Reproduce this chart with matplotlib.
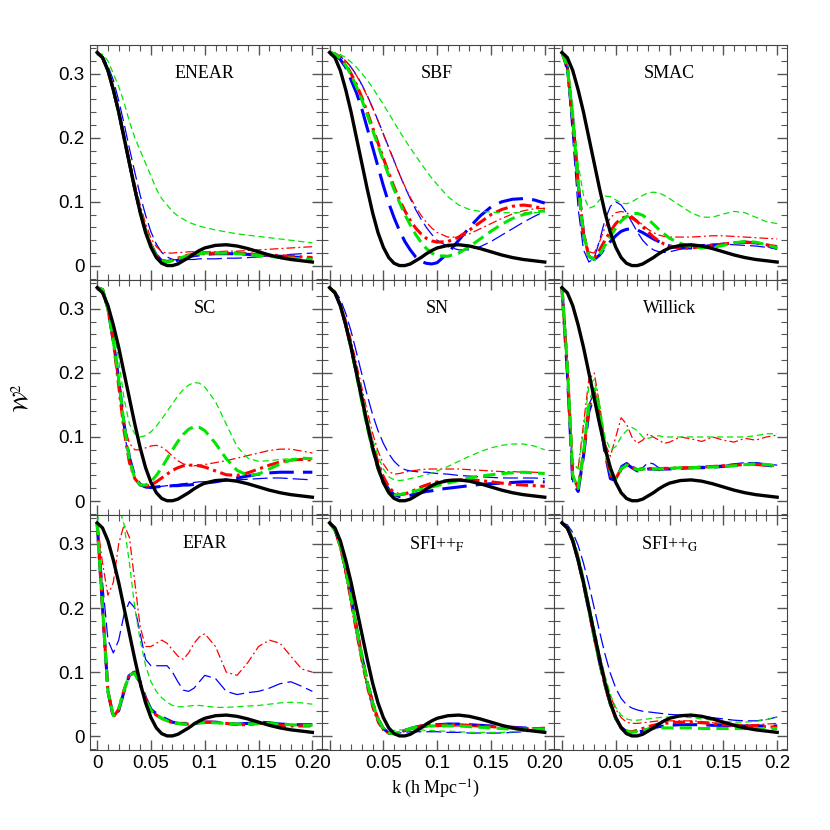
import matplotlib
matplotlib.use("Agg")
import numpy as np
import matplotlib.pyplot as plt
from matplotlib.ticker import MultipleLocator, FixedLocator, FixedFormatter

plt.rcParams["mathtext.fontset"] = "stix"

# k grid: 0.005 steps to 0.1, then 0.01 steps to 0.2
k = [0.0, 0.005, 0.01, 0.015, 0.02, 0.025, 0.03, 0.035, 0.04, 0.045, 0.05,
     0.055, 0.06, 0.065, 0.07, 0.075, 0.08, 0.085, 0.09, 0.095, 0.1,
     0.11, 0.12, 0.13, 0.14, 0.15, 0.16, 0.17, 0.18, 0.19, 0.2]

# ideal top-hat window (same in every panel)
black = [0.333, 0.325, 0.305, 0.275, 0.24, 0.2, 0.16, 0.12, 0.083, 0.052, 0.029,
         0.013, 0.004, 0.0005, 0.0005, 0.003, 0.008, 0.013, 0.019, 0.024, 0.028,
         0.032, 0.033, 0.031, 0.027, 0.022, 0.017, 0.013, 0.010, 0.008, 0.006]

panel_names = ["ENEAR", "SBF", "SMAC", "SC", "SN", "Willick",
               "EFAR", r"SFI++$_{\rm F}$", r"SFI++$_{\rm G}$"]

# each panel: blue thin, blue thick, red thin, red thick, green thin, green thick
enear_b1 = [0.333,0.327,0.312,0.29,0.258,0.222,0.183,0.146,0.11,0.079,0.053,0.034,0.021,0.014,0.01,0.009,0.009,0.01,0.01,0.011,0.011,0.011,0.012,0.012,0.013,0.014,0.015,0.016,0.018,0.019,0.02]
enear_b2 = [0.333,0.325,0.305,0.275,0.24,0.2,0.16,0.12,0.085,0.055,0.033,0.017,0.008,0.005,0.006,0.009,0.012,0.014,0.016,0.017,0.018,0.019,0.019,0.019,0.018,0.017,0.016,0.015,0.014,0.013,0.012]
enear_r1 = [0.333,0.326,0.308,0.28,0.245,0.207,0.168,0.13,0.095,0.066,0.043,0.03,0.022,0.02,0.02,0.021,0.021,0.022,0.022,0.022,0.022,0.022,0.023,0.023,0.024,0.025,0.026,0.027,0.028,0.029,0.03]
enear_r2 = [0.333,0.325,0.305,0.275,0.24,0.2,0.16,0.12,0.085,0.055,0.033,0.017,0.009,0.007,0.009,0.012,0.015,0.017,0.018,0.019,0.019,0.02,0.02,0.02,0.019,0.018,0.017,0.016,0.015,0.014,0.013]
enear_g1 = [0.333,0.33,0.32,0.30,0.28,0.255,0.225,0.20,0.18,0.16,0.14,0.12,0.105,0.095,0.085,0.078,0.073,0.068,0.065,0.062,0.06,0.056,0.053,0.05,0.048,0.046,0.044,0.042,0.040,0.038,0.036]
enear_g2 = [0.333,0.325,0.305,0.275,0.24,0.2,0.16,0.12,0.085,0.055,0.032,0.016,0.008,0.006,0.008,0.011,0.014,0.016,0.018,0.019,0.02,0.02,0.02,0.019,0.018,0.016,0.015,0.013,0.012,0.011,0.01]

sbf_b1 = [0.333,0.331,0.327,0.32,0.31,0.298,0.283,0.266,0.247,0.227,0.206,0.185,0.164,0.143,0.123,0.105,0.088,0.073,0.06,0.049,0.04,0.03,0.025,0.025,0.03,0.038,0.048,0.058,0.068,0.077,0.085]
sbf_b2 = [0.333,0.33,0.322,0.31,0.29,0.27,0.245,0.215,0.185,0.155,0.125,0.098,0.075,0.055,0.038,0.025,0.014,0.007,0.004,0.003,0.005,0.02,0.04,0.06,0.078,0.092,0.1,0.104,0.105,0.103,0.098]
sbf_r1 = [0.333,0.332,0.328,0.32,0.31,0.297,0.282,0.265,0.246,0.226,0.205,0.184,0.163,0.143,0.124,0.107,0.092,0.079,0.068,0.059,0.052,0.045,0.045,0.05,0.058,0.066,0.074,0.081,0.086,0.089,0.09]
sbf_r2 = [0.333,0.331,0.325,0.315,0.30,0.283,0.263,0.24,0.216,0.192,0.168,0.145,0.123,0.103,0.086,0.071,0.059,0.05,0.043,0.039,0.037,0.038,0.045,0.056,0.068,0.08,0.088,0.093,0.095,0.093,0.088]
sbf_g1 = [0.333,0.332,0.33,0.325,0.318,0.31,0.30,0.29,0.278,0.265,0.252,0.238,0.224,0.21,0.197,0.184,0.172,0.16,0.148,0.137,0.127,0.108,0.095,0.088,0.085,0.084,0.083,0.083,0.083,0.083,0.084]
sbf_g2 = [0.333,0.331,0.324,0.313,0.298,0.28,0.259,0.236,0.212,0.188,0.164,0.141,0.119,0.099,0.08,0.064,0.049,0.037,0.027,0.02,0.016,0.015,0.02,0.03,0.042,0.054,0.065,0.074,0.08,0.084,0.086]

smac_b1 = [0.333,0.3,0.2,0.09,0.025,0.006,0.012,0.04,0.072,0.093,0.1,0.095,0.083,0.068,0.053,0.04,0.031,0.025,0.022,0.021,0.022,0.026,0.03,0.033,0.034,0.034,0.033,0.032,0.031,0.029,0.027]
smac_b2 = [0.333,0.31,0.23,0.13,0.05,0.015,0.01,0.017,0.028,0.038,0.047,0.054,0.057,0.058,0.056,0.052,0.047,0.042,0.038,0.034,0.031,0.028,0.028,0.03,0.032,0.034,0.036,0.037,0.036,0.032,0.027]
smac_r1 = [0.333,0.31,0.23,0.13,0.055,0.022,0.02,0.038,0.06,0.075,0.083,0.085,0.083,0.078,0.071,0.064,0.057,0.052,0.048,0.046,0.045,0.045,0.045,0.046,0.047,0.047,0.046,0.045,0.044,0.043,0.042]
smac_r2 = [0.333,0.31,0.23,0.13,0.05,0.015,0.012,0.025,0.04,0.054,0.066,0.074,0.077,0.075,0.069,0.061,0.053,0.045,0.039,0.034,0.031,0.028,0.028,0.03,0.032,0.034,0.036,0.037,0.036,0.033,0.03]
smac_g1 = [0.333,0.32,0.25,0.16,0.11,0.09,0.093,0.103,0.109,0.108,0.103,0.098,0.097,0.1,0.105,0.11,0.114,0.115,0.114,0.11,0.105,0.094,0.083,0.076,0.076,0.081,0.085,0.083,0.076,0.069,0.066]
smac_g2 = [0.333,0.31,0.23,0.13,0.05,0.015,0.01,0.018,0.032,0.046,0.059,0.07,0.077,0.081,0.082,0.079,0.073,0.065,0.057,0.05,0.043,0.035,0.03,0.028,0.029,0.032,0.036,0.038,0.037,0.033,0.028]

sc_b1 = [0.333,0.33,0.30,0.25,0.18,0.11,0.06,0.035,0.024,0.021,0.021,0.022,0.023,0.024,0.025,0.026,0.027,0.028,0.029,0.03,0.03,0.031,0.032,0.033,0.034,0.035,0.036,0.036,0.035,0.034,0.033]
sc_b2 = [0.333,0.33,0.30,0.25,0.19,0.12,0.068,0.038,0.026,0.022,0.021,0.022,0.023,0.023,0.024,0.024,0.025,0.025,0.026,0.027,0.028,0.03,0.033,0.036,0.039,0.042,0.044,0.045,0.045,0.045,0.045]
sc_r1 = [0.333,0.33,0.30,0.25,0.18,0.12,0.09,0.08,0.08,0.083,0.086,0.087,0.084,0.078,0.07,0.063,0.058,0.056,0.055,0.056,0.057,0.06,0.063,0.067,0.071,0.075,0.079,0.081,0.081,0.078,0.075]
sc_r2 = [0.333,0.33,0.30,0.25,0.18,0.11,0.06,0.035,0.025,0.023,0.025,0.03,0.036,0.042,0.048,0.052,0.055,0.056,0.056,0.055,0.053,0.047,0.041,0.04,0.044,0.05,0.056,0.061,0.064,0.065,0.064]
sc_g1 = [0.333,0.33,0.31,0.27,0.22,0.16,0.12,0.105,0.1,0.102,0.108,0.117,0.128,0.14,0.152,0.164,0.174,0.181,0.185,0.184,0.178,0.155,0.12,0.085,0.067,0.062,0.063,0.065,0.066,0.066,0.065]
sc_g2 = [0.333,0.33,0.30,0.25,0.19,0.12,0.065,0.035,0.025,0.025,0.03,0.04,0.052,0.066,0.08,0.093,0.104,0.112,0.116,0.115,0.11,0.09,0.066,0.048,0.04,0.042,0.05,0.058,0.064,0.067,0.066]

sn_b1 = [0.333,0.328,0.315,0.293,0.265,0.232,0.198,0.165,0.135,0.11,0.09,0.074,0.062,0.054,0.049,0.047,0.046,0.045,0.045,0.044,0.043,0.042,0.04,0.039,0.038,0.037,0.036,0.036,0.036,0.036,0.035]
sn_b2 = [0.333,0.325,0.305,0.275,0.24,0.2,0.16,0.12,0.085,0.055,0.033,0.018,0.01,0.007,0.007,0.009,0.011,0.013,0.015,0.016,0.018,0.02,0.022,0.024,0.026,0.027,0.028,0.029,0.03,0.03,0.03]
sn_r1 = [0.333,0.327,0.31,0.285,0.252,0.215,0.177,0.14,0.106,0.078,0.058,0.046,0.042,0.043,0.045,0.047,0.048,0.049,0.05,0.05,0.05,0.05,0.05,0.049,0.048,0.047,0.046,0.046,0.045,0.045,0.044]
sn_r2 = [0.333,0.325,0.305,0.275,0.24,0.2,0.16,0.122,0.088,0.06,0.038,0.022,0.013,0.01,0.011,0.014,0.018,0.022,0.025,0.028,0.03,0.032,0.033,0.033,0.032,0.03,0.028,0.026,0.025,0.024,0.023]
sn_g1 = [0.333,0.326,0.308,0.28,0.245,0.207,0.168,0.13,0.096,0.07,0.05,0.038,0.033,0.032,0.033,0.035,0.037,0.039,0.041,0.044,0.047,0.054,0.062,0.07,0.077,0.083,0.087,0.089,0.089,0.086,0.08]
sn_g2 = [0.333,0.325,0.305,0.275,0.238,0.197,0.155,0.115,0.08,0.05,0.028,0.015,0.01,0.01,0.012,0.014,0.016,0.018,0.02,0.022,0.024,0.028,0.032,0.036,0.039,0.041,0.043,0.044,0.045,0.044,0.043]

wil_b1 = [0.333,0.2,0.03,0.02,0.08,0.15,0.17,0.14,0.08,0.04,0.035,0.055,0.06,0.055,0.05,0.052,0.06,0.058,0.052,0.05,0.05,0.052,0.053,0.054,0.055,0.056,0.058,0.06,0.06,0.058,0.056]
wil_b2 = [0.333,0.2,0.03,0.015,0.07,0.14,0.165,0.13,0.075,0.035,0.032,0.05,0.058,0.052,0.047,0.048,0.05,0.05,0.049,0.05,0.05,0.051,0.052,0.052,0.053,0.054,0.056,0.058,0.058,0.056,0.054]
wil_r1 = [0.333,0.22,0.06,0.05,0.12,0.19,0.2,0.15,0.09,0.07,0.1,0.13,0.12,0.1,0.09,0.095,0.105,0.1,0.095,0.09,0.092,0.1,0.097,0.093,0.1,0.095,0.092,0.098,0.095,0.1,0.103]
wil_r2 = [0.333,0.21,0.04,0.02,0.075,0.145,0.17,0.135,0.08,0.04,0.035,0.05,0.057,0.053,0.049,0.05,0.051,0.05,0.05,0.051,0.051,0.052,0.052,0.053,0.054,0.055,0.056,0.057,0.057,0.056,0.055]
wil_g1 = [0.333,0.22,0.06,0.05,0.11,0.18,0.19,0.15,0.1,0.08,0.085,0.1,0.11,0.115,0.11,0.1,0.098,0.1,0.102,0.1,0.1,0.1,0.1,0.1,0.1,0.1,0.1,0.1,0.102,0.105,0.105]
wil_g2 = [0.333,0.21,0.04,0.02,0.075,0.15,0.175,0.14,0.085,0.045,0.035,0.05,0.056,0.052,0.049,0.05,0.05,0.05,0.05,0.05,0.051,0.052,0.052,0.053,0.053,0.054,0.055,0.057,0.058,0.057,0.055]

efar_b1 = [0.333,0.24,0.15,0.13,0.15,0.19,0.21,0.2,0.16,0.12,0.11,0.11,0.11,0.11,0.1,0.085,0.072,0.07,0.075,0.085,0.095,0.09,0.07,0.065,0.068,0.07,0.075,0.082,0.085,0.078,0.07]
efar_b2 = [0.333,0.2,0.07,0.03,0.04,0.07,0.095,0.1,0.085,0.06,0.042,0.035,0.03,0.026,0.022,0.02,0.02,0.02,0.02,0.021,0.022,0.022,0.02,0.019,0.02,0.022,0.021,0.019,0.018,0.018,0.018]
efar_r1 = [0.333,0.27,0.22,0.24,0.3,0.33,0.31,0.24,0.17,0.14,0.14,0.145,0.15,0.145,0.135,0.125,0.12,0.13,0.145,0.155,0.16,0.14,0.1,0.095,0.115,0.14,0.15,0.145,0.125,0.105,0.1]
efar_r2 = [0.333,0.2,0.07,0.03,0.042,0.072,0.097,0.1,0.082,0.058,0.04,0.033,0.028,0.024,0.021,0.02,0.019,0.019,0.02,0.021,0.022,0.022,0.02,0.018,0.018,0.02,0.019,0.017,0.016,0.016,0.016]
efar_g1 = [0.333,0.37,0.4,0.39,0.36,0.33,0.27,0.2,0.15,0.11,0.085,0.07,0.06,0.053,0.048,0.046,0.046,0.047,0.048,0.048,0.047,0.045,0.045,0.046,0.047,0.048,0.05,0.052,0.053,0.052,0.05]
efar_g2 = [0.333,0.2,0.07,0.032,0.043,0.072,0.096,0.098,0.08,0.057,0.04,0.033,0.028,0.024,0.021,0.02,0.019,0.019,0.02,0.021,0.021,0.021,0.02,0.019,0.019,0.02,0.02,0.019,0.018,0.017,0.017]

sfif_b1 = [0.333,0.322,0.295,0.255,0.21,0.163,0.118,0.078,0.045,0.022,0.009,0.004,0.004,0.005,0.006,0.007,0.007,0.007,0.007,0.007,0.007,0.006,0.006,0.005,0.005,0.005,0.005,0.006,0.007,0.008,0.009]
sfif_b2 = [0.333,0.322,0.297,0.26,0.216,0.17,0.125,0.085,0.052,0.027,0.012,0.005,0.004,0.006,0.009,0.012,0.014,0.016,0.017,0.018,0.018,0.019,0.019,0.018,0.017,0.016,0.015,0.014,0.013,0.012,0.011]
sfif_r1 = [0.333,0.32,0.29,0.25,0.203,0.156,0.112,0.073,0.042,0.02,0.008,0.004,0.004,0.006,0.008,0.01,0.012,0.013,0.014,0.015,0.015,0.016,0.016,0.015,0.015,0.014,0.013,0.012,0.012,0.013,0.014]
sfif_r2 = [0.333,0.322,0.297,0.26,0.216,0.17,0.125,0.085,0.052,0.027,0.012,0.005,0.004,0.006,0.009,0.012,0.014,0.016,0.017,0.017,0.017,0.018,0.018,0.017,0.016,0.015,0.014,0.013,0.012,0.012,0.012]
sfif_g1 = [0.333,0.322,0.295,0.257,0.212,0.166,0.122,0.083,0.05,0.026,0.013,0.009,0.009,0.01,0.01,0.01,0.01,0.01,0.009,0.009,0.008,0.008,0.007,0.006,0.006,0.006,0.006,0.007,0.008,0.01,0.012]
sfif_g2 = [0.333,0.322,0.297,0.26,0.216,0.17,0.125,0.085,0.052,0.027,0.012,0.005,0.004,0.006,0.009,0.012,0.014,0.015,0.016,0.016,0.016,0.016,0.016,0.015,0.014,0.013,0.012,0.011,0.011,0.011,0.011]

sfig_b1 = [0.333,0.33,0.318,0.298,0.27,0.237,0.2,0.163,0.128,0.098,0.075,0.059,0.049,0.044,0.041,0.039,0.038,0.037,0.036,0.035,0.034,0.033,0.032,0.031,0.029,0.027,0.025,0.024,0.024,0.026,0.03]
sfig_b2 = [0.333,0.325,0.305,0.275,0.238,0.197,0.155,0.115,0.08,0.05,0.028,0.014,0.007,0.005,0.006,0.008,0.011,0.013,0.015,0.016,0.017,0.018,0.018,0.018,0.017,0.017,0.016,0.016,0.016,0.016,0.016]
sfig_r1 = [0.333,0.327,0.31,0.283,0.248,0.208,0.167,0.128,0.092,0.063,0.042,0.029,0.022,0.02,0.02,0.021,0.022,0.023,0.024,0.024,0.024,0.024,0.024,0.023,0.021,0.02,0.019,0.018,0.018,0.019,0.02]
sfig_r2 = [0.333,0.325,0.305,0.275,0.238,0.197,0.155,0.115,0.08,0.05,0.028,0.014,0.008,0.007,0.009,0.012,0.015,0.017,0.019,0.02,0.021,0.022,0.022,0.021,0.02,0.018,0.017,0.016,0.015,0.015,0.014]
sfig_g1 = [0.333,0.328,0.312,0.285,0.25,0.21,0.17,0.13,0.094,0.065,0.045,0.033,0.027,0.025,0.025,0.026,0.027,0.028,0.029,0.03,0.03,0.03,0.029,0.027,0.025,0.023,0.022,0.022,0.023,0.026,0.03]
sfig_g2 = [0.333,0.325,0.305,0.275,0.238,0.197,0.155,0.115,0.08,0.05,0.028,0.014,0.008,0.006,0.007,0.009,0.011,0.012,0.013,0.013,0.013,0.013,0.013,0.012,0.012,0.012,0.012,0.012,0.012,0.012,0.012]

panels = [
    [enear_b1, enear_b2, enear_r1, enear_r2, enear_g1, enear_g2],
    [sbf_b1, sbf_b2, sbf_r1, sbf_r2, sbf_g1, sbf_g2],
    [smac_b1, smac_b2, smac_r1, smac_r2, smac_g1, smac_g2],
    [sc_b1, sc_b2, sc_r1, sc_r2, sc_g1, sc_g2],
    [sn_b1, sn_b2, sn_r1, sn_r2, sn_g1, sn_g2],
    [wil_b1, wil_b2, wil_r1, wil_r2, wil_g1, wil_g2],
    [efar_b1, efar_b2, efar_r1, efar_r2, efar_g1, efar_g2],
    [sfif_b1, sfif_b2, sfif_r1, sfif_r2, sfif_g1, sfif_g2],
    [sfig_b1, sfig_b2, sfig_r1, sfig_r2, sfig_g1, sfig_g2],
]

blue, red, green = "#0000ff", "#ff0000", "#00e600"
styles = [
    dict(color=blue, lw=0.9, dashes=(12, 4)),
    dict(color=blue, lw=2.2, dashes=(8, 3)),
    dict(color=red, lw=0.9, dashes=(7, 2.5, 1.5, 2.5)),
    dict(color=red, lw=2.2, dashes=(4, 1.5, 1, 1.5)),
    dict(color=green, lw=0.9, dashes=(5, 3)),
    dict(color=green, lw=2.2, dashes=(4, 2)),
]

fig, axes = plt.subplots(3, 3, figsize=(8.3, 8.3), dpi=100)
fig.subplots_adjust(left=0.108, right=0.948, top=0.946, bottom=0.096, wspace=0, hspace=0)

for i, ax in enumerate(axes.flat):
    row, col = divmod(i, 3)
    for ys, st in zip(panels[i], styles):
        ax.plot(k, ys, **st)
    ax.plot(k, black, color="black", lw=2.4)
    ax.text(0.1, 0.3, panel_names[i], ha="center", va="center", fontsize=13,
            family="Liberation Serif")
    ax.set_xlim(-0.007, 0.209)
    ax.set_ylim(-0.022, 0.345)
    ax.xaxis.set_major_locator(FixedLocator([0, 0.05, 0.1, 0.15, 0.2]))
    ax.xaxis.set_minor_locator(MultipleLocator(0.01))
    ax.yaxis.set_major_locator(FixedLocator([0, 0.1, 0.2, 0.3]))
    ax.yaxis.set_minor_locator(MultipleLocator(0.02))
    ax.tick_params(which="both", direction="in", top=True, right=True,
                   labelsize=13.5, color="#555555",
                   labelbottom=(row == 2), labelleft=(col == 0))
    ax.tick_params(which="major", length=7, width=1)
    ax.tick_params(which="minor", length=4, width=0.8)
    for s in ax.spines.values():
        s.set_linewidth(0.8)
        s.set_color("#444444")
    lab = ["0", "0.05", "0.1", "0.15", "0.20" if col < 2 else "0.2"]
    if col > 0:
        lab[0] = ""
    ax.xaxis.set_major_formatter(FixedFormatter(lab))
    ax.yaxis.set_major_formatter(FixedFormatter(["0", "0.1", "0.2", "0.3"]))
    for t in ax.get_xticklabels() + ax.get_yticklabels():
        t.set_family("Liberation Sans")

fig.text(0.525, 0.05, r"k (h Mpc$^{-1}$)", ha="center", va="center", fontsize=13,
         family="Liberation Serif")
fig.text(0.025, 0.52, r"$\mathcal{W}^2$", ha="center", va="center", fontsize=15,
         rotation=90)

plt.savefig("out.png")
